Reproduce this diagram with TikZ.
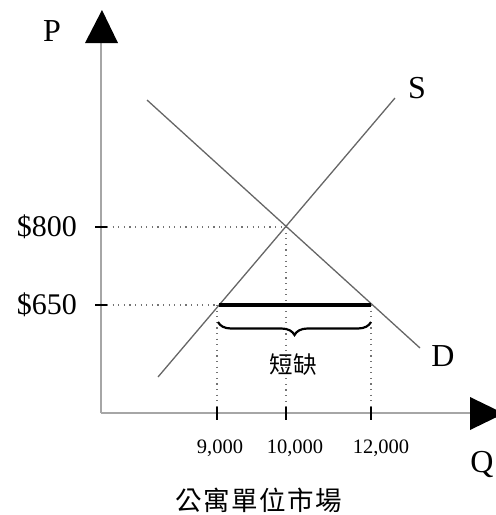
\documentclass[tikz,border=0pt]{standalone}
\usepackage{fontspec}
\setmainfont{Liberation Serif}
\newfontfamily\cjk{Noto Sans CJK TC}
\usetikzlibrary{decorations.pathreplacing}
\begin{document}
\begin{tikzpicture}[x=1pt,y=-1pt,
  axisline/.style={draw=black!35,line width=2.2pt},
  curve/.style={draw=black!60,line width=1.3pt},
  guide/.style={draw=black!55,line width=1.1pt,dash pattern=on 1.1pt off 4.5pt},
  tickmark/.style={draw=black,line width=1.4pt},
  arrowhead/.style={fill=black},
  biglabel/.style={inner sep=0pt,font=\fontsize{32}{32}\selectfont},
  pricelabel/.style={inner sep=0pt,font=\fontsize{30}{30}\selectfont},
  qlabel/.style={inner sep=0pt,font=\fontsize{20.5}{20.5}\selectfont},
  cjklabel/.style={inner sep=0pt,font=\cjk\fontsize{23.5}{23.5}\selectfont}]
\useasboundingbox (0,0) rectangle (496,515);
\begin{scope}
\clip (0,0) rectangle (496,515);
% key points
\coordinate (O) at (101,413);
\coordinate (Ytop) at (101,40);
\coordinate (Xend) at (472,413);
\coordinate (E) at (286,227);
\coordinate (Sbot) at (158,377);
\coordinate (Stop) at (395,98);
\coordinate (Dtop) at (147,100);
\coordinate (Dbot) at (420,348);
\coordinate (A) at (219,305);
\coordinate (B) at (371,305);
\coordinate (Y800) at (107,227);
\coordinate (Y650) at (107,305);
\coordinate (X9) at (217,413);
\coordinate (X10) at (286,413);
\coordinate (X12) at (371,413);
% axes
\draw[axisline] (O) -- (Ytop);
\draw[axisline] (O) -- (Xend);
\fill[arrowhead] (85,43) -- (118,43) -- (102,10) -- cycle;
\fill[arrowhead] (470,397) -- (470,430) -- (504,413.5) -- cycle;
% guide lines
\draw[guide] (Y800) -- (E);
\draw[guide] (Y650) -- (A);
\draw[guide] (E) -- (X10);
\draw[guide] (217,305) -- (X9);
\draw[guide] (B) -- (X12);
% supply and demand
\draw[curve] (Sbot) -- (Stop);
\draw[curve] (Dtop) -- (Dbot);
% shortage bar
\draw[line width=4pt] (A) -- (B);
\draw[line width=2.2pt,decorate,decoration={brace,mirror,amplitude=13pt,raise=0pt}] (218,322) -- (371,322);
% ticks
\draw[tickmark] (95,227) -- (107,227);
\draw[tickmark] (95,305) -- (107,305);
\draw[tickmark] (217,407) -- (217,420);
\draw[tickmark] (286,407) -- (286,420);
\draw[tickmark] (371,407) -- (371,420);
\end{scope}
% labels
\node[biglabel] (P) at (52,31) {P};
\node[biglabel] (S) at (417,88) {S};
\node[biglabel] (D) at (443,356) {D};
\node[biglabel] (Q) at (482,464) {Q};
\node[pricelabel,anchor=east] (p800) at (77,227) {\$800};
\node[pricelabel,anchor=east] (p650) at (77,305) {\$650};
\node[qlabel] (q9) at (220,448) {9,000};
\node[qlabel] (q10) at (295,448) {10,000};
\node[qlabel] (q12) at (381,448) {12,000};
\node[cjklabel] (short) at (293,365) {短缺};
\node[inner sep=0pt,font=\cjk\fontsize{26.5}{26.5}\selectfont] (cap) at (259,500) {公\hspace{1.5pt}寓\hspace{1.5pt}單\hspace{1.5pt}位\hspace{1.5pt}市\hspace{1.5pt}場};
\end{tikzpicture}
\end{document}
